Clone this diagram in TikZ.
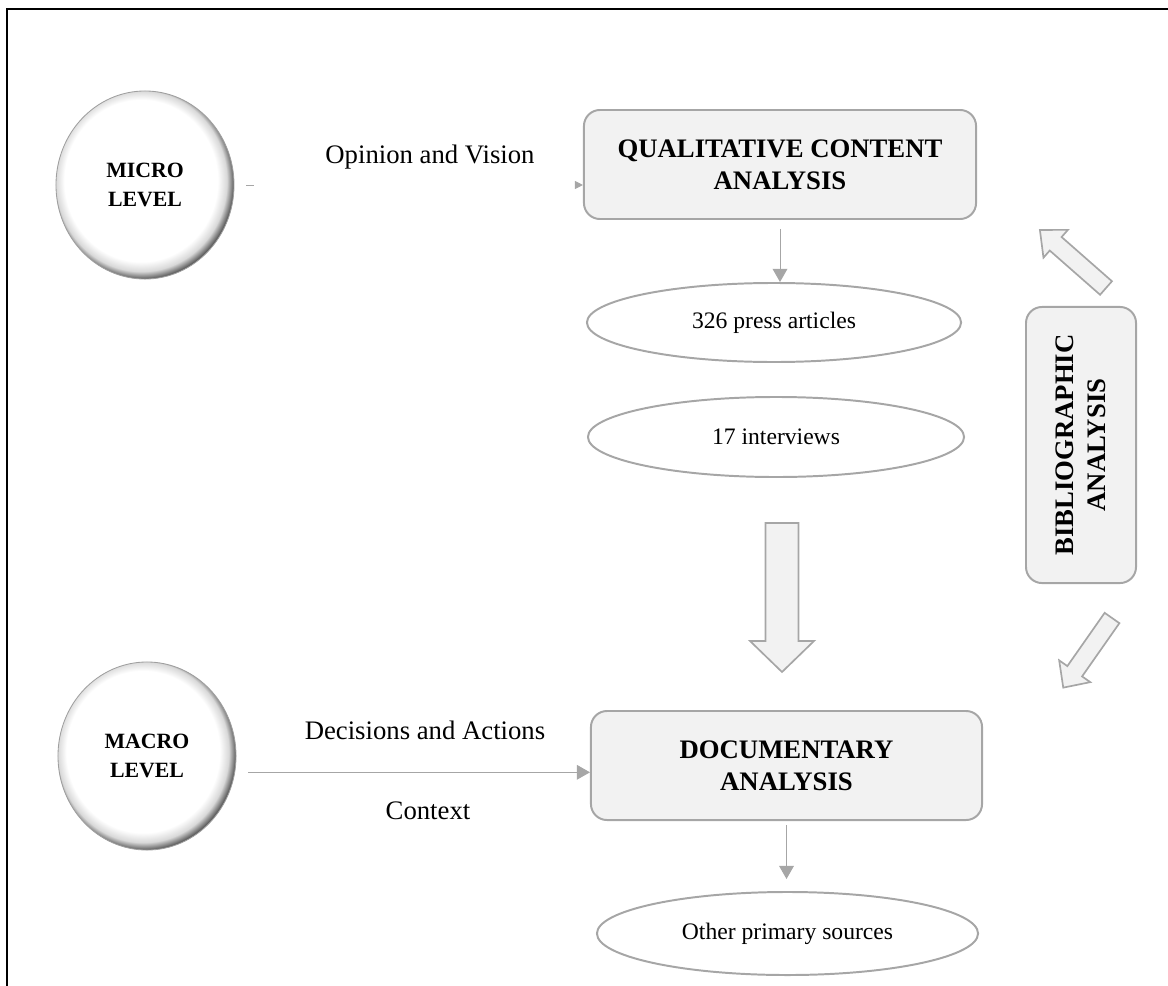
\documentclass[tikz,border=0pt]{standalone}
\usepackage{fontspec}
\setmainfont{Liberation Serif}
\usetikzlibrary{shapes.geometric,arrows.meta}

\def\px{0.025cm}

% light ball for the two level circles
\pgfdeclareradialshading{levelball}{\pgfpoint{-2bp}{2bp}}{%
  color(0bp)=(white); color(21.5bp)=(white); color(24bp)=(gray!30);
  color(26bp)=(gray!70!black); color(50bp)=(gray!70!black)}

% fat arrow: tail, angle, length, shaft, head width, head length
\newcommand{\fatarrow}[6]{%
  \draw[fatarr, shift={#1}, rotate=#2]
    (0,-#4/2) -- (#3-#6,-#4/2) -- (#3-#6,-#5/2) -- (#3,0)
    -- (#3-#6,#5/2) -- (#3-#6,#4/2) -- (0,#4/2) -- cycle;}

\begin{document}
\begin{tikzpicture}[x=\px, y=-\px,
    level/.style={ellipse, draw=gray!75, line width=0.6pt, shading=levelball,
      inner sep=0pt, align=center, font=\fontsize{15.5}{20}\selectfont\bfseries},
    method/.style={draw=gray!70, fill=gray!10, line width=1.4pt, rounded corners=0.4cm,
      align=center, font=\fontsize{19}{22.5}\selectfont\bfseries},
    source/.style={ellipse, draw=gray!70, line width=1.4pt, inner sep=0pt,
      font=\fontsize{16.8}{19}\selectfont},
    lbl/.style={font=\fontsize{19}{22}\selectfont},
    link/.style={draw=gray!70, line width=0.7pt, -{Triangle[length=0.33cm,width=0.37cm]}},
    fatarr/.style={draw=gray!70, fill=gray!10, line width=1.2pt}]
  \useasboundingbox (0,0) rectangle (1168,985);
  \begin{scope}
    \clip (0,0) rectangle (1168,985);
    \draw[line width=0.07cm] (7,1000) -- (7,9) -- (1180,9);
  \end{scope}

  % levels
  \node[level, minimum width=4.45cm, minimum height=4.7cm] (micro) at (145,185) {MICRO\\LEVEL};
  \node[level, minimum width=4.45cm, minimum height=4.7cm] (macro) at (147,756) {MACRO\\LEVEL};

  % methods
  \node[method, minimum width=9.8cm, minimum height=2.725cm] (qca) at (780,164.5)
    {QUALITATIVE CONTENT\\ANALYSIS};
  \node[method, minimum width=9.775cm, minimum height=2.725cm] (doc) at (786.5,765.5)
    {DOCUMENTARY\\ANALYSIS};
  \node[method, rotate=90, minimum width=6.9cm, minimum height=2.75cm] (bib) at (1081,445)
    {BIBLIOGRAPHIC\\ANALYSIS};

  % sources
  \node[source, minimum width=9.35cm, minimum height=1.975cm] (press) at (774,322.5) {326 press articles};
  \node[source, minimum width=9.4cm, minimum height=2cm] (interv) at (776,437) {17 interviews};
  \node[source, minimum width=9.525cm, minimum height=2.075cm] (other) at (787.5,933.5) {Other primary sources};

  % labels
  \node[lbl] (opinion) at (430,157) {Opinion and Vision};
  \node[lbl] (decision) at (425,730) {Decisions and Actions};
  \node[lbl] (context) at (428,811) {Context};

  % links
  \draw[link, shorten <=0.3cm, dash pattern=on 0.2cm off 9cm,
    -{Triangle[length=0.2cm,width=0.2cm]}] (micro.east) -- (micro.east -| qca.west);
  \coordinate (docin) at ([yshift=-0.17cm]doc.west);
  \draw[link] ([xshift=0.3cm]macro.east |- docin) -- (docin);
  \draw[link] ([yshift=-0.22cm]qca.south) -- (qca.south |- press.north);
  \draw[link] ([yshift=-0.1cm]doc.south) -- ([yshift=0.3cm]doc.south |- other.north);

  % fat arrows
  \fatarrow{(782,523)}{-90}{149}{33}{64}{31}
  \fatarrow{(1106,288)}{138.7}{88}{18}{37}{21}
  \fatarrow{(1112,618)}{-125}{85}{18}{38}{20}
\end{tikzpicture}
\end{document}
